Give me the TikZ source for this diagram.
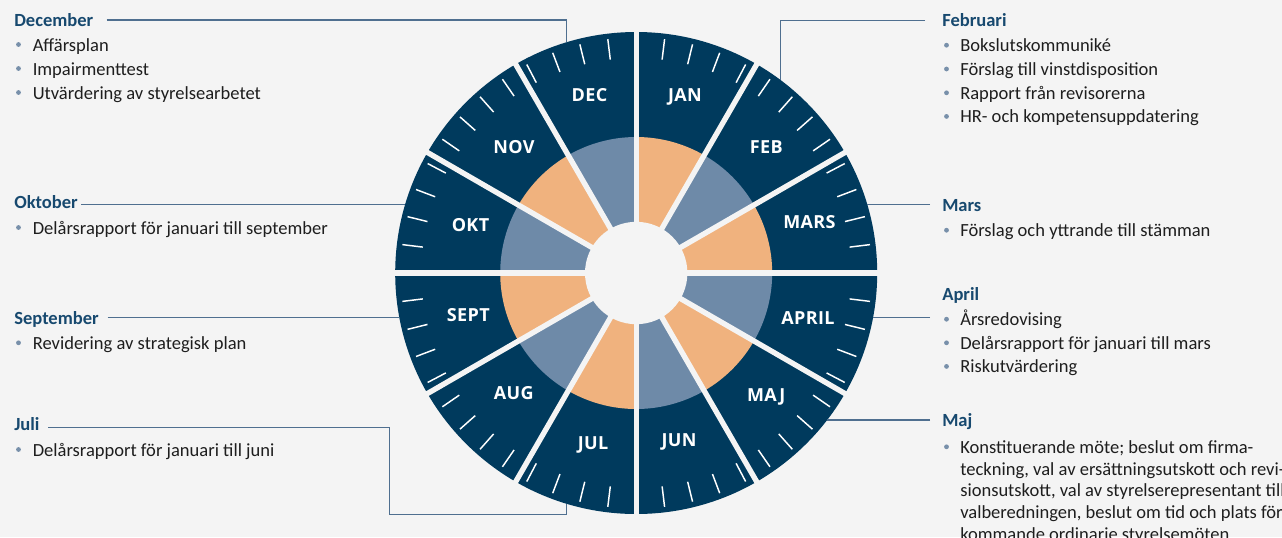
\documentclass[tikz,border=0pt]{standalone}
\usepackage{fontspec}
\setmainfont{Carlito}
\newfontfamily\monthfont{Open Sans}[LetterSpace=2.0]
\definecolor{cBg}{HTML}{F4F4F4}
\definecolor{cNavy}{HTML}{003A5D}
\definecolor{cSlate}{HTML}{6E8AA8}
\definecolor{cPeach}{HTML}{F0B27E}
\definecolor{cHead}{HTML}{17496F}
\definecolor{cBody}{HTML}{1E1E1E}
\definecolor{cConn}{HTML}{4F6F8F}
\definecolor{cBul}{HTML}{7890AA}
\begin{document}
\begin{tikzpicture}[x=0.75pt,y=-0.75pt,
  headtxt/.style={anchor=base west, inner sep=0pt, font=\fontsize{13.9}{16}\selectfont\bfseries, text=cHead},
  itemtxt/.style={anchor=base west, inner sep=0pt, font=\fontsize{13.9}{16}\selectfont, text=cBody},
  monthtxt/.style={anchor=base, inner sep=0pt, font=\monthfont\bfseries\fontsize{13.5}{15}\selectfont, text=white},
  connline/.style={draw=cConn, line width=0.8pt},
  tickline/.style={draw=white, line width=1.1pt},
  gapline/.style={draw=cBg, line width=4pt},
  bul/.style={fill=cBul},
]
\fill[cBg] (0,0) rectangle (1282,537);
\useasboundingbox (0,0) rectangle (1282,537);

% ---------------- wheel ----------------
\begin{scope}[shift={(636.2,273)}, y=0.75pt]
  \fill[cNavy] (0,0) circle[radius=241];
  \foreach \i [evaluate=\i as \aa using 90-30*(\i+1), evaluate=\i as \ab using 90-30*\i] in {0,...,11}{
    \ifodd\i
      \fill[cSlate] (0,0) -- (\aa:136) arc[start angle=\aa, end angle=\ab, radius=136] -- cycle;
    \else
      \fill[cPeach] (0,0) -- (\aa:136) arc[start angle=\aa, end angle=\ab, radius=136] -- cycle;
    \fi
  }
  \foreach \k in {1,...,51}{
    \draw[tickline] ({90-6.923077*\k}:215) -- ({90-6.923077*\k}:235.5);
  }
  \foreach \i in {0,...,11}{
    \draw[gapline] (0,0) -- ({90-30*\i}:247);
  }
  \fill[cBg] (0,0) circle[radius=51.2];
\end{scope}

% month labels (x / y of cap centre)
\foreach \n/\x/\y in {DEC/589.5/94.9, JAN/685/94.9, FEB/766.3/147, MARS/809.5/222,
  APRIL/808/318.5, MAJ/766.2/395.5, JUN/679/440, JUL/593/442.8,
  AUG/513.7/392.8, SEPT/468.3/315, OKT/470.5/224.8, NOV/514/147}{
  \node[monthtxt] (m-\n) at (\x,\y+6.45) {\n};
}

% ---------------- left texts ----------------
\node[headtxt] (h-dec) at (14,26) {December};
\foreach \t/\y in {Affärsplan/51, Impairmenttest/75, Utvärdering av styrelsearbetet/99}{
  \fill[bul] (18.5,\y-6.5) circle[radius=2.4];
  \node[itemtxt] at (32.5,\y) {\t};
}
\node[headtxt] (h-okt) at (14,208.3) {Oktober};
\fill[bul] (18.5,234-6.5) circle[radius=2.4];
\node[itemtxt] (i-okt) at (32.5,234) {Delårsrapport för januari till september};

\node[headtxt] (h-sep) at (14,324) {September};
\fill[bul] (18.5,349.3-6.5) circle[radius=2.4];
\node[itemtxt] (i-sep) at (32.5,349.3) {Revidering av strategisk plan};

\node[headtxt] (h-jul) at (14,430.7) {Juli};
\fill[bul] (18.5,456-6.5) circle[radius=2.4];
\node[itemtxt] (i-jul) at (32.5,456) {Delårsrapport för januari till juni};

% ---------------- right texts ----------------
\node[headtxt] (h-feb) at (942,26) {Februari};
\foreach \t/\y in {Bokslutskommuniké/51.7, Förslag till vinstdisposition/75.5, Rapport från revisorerna/99.3, HR- och kompetensuppdatering/122.9}{
  \fill[bul] (946.5,\y-6.5) circle[radius=2.4];
  \node[itemtxt] at (960,\y) {\t};
}
\node[headtxt] (h-mar) at (942,211) {Mars};
\fill[bul] (946.5,236.7-6.5) circle[radius=2.4];
\node[itemtxt] (i-mar) at (960,236.7) {Förslag och yttrande till stämman};

\node[headtxt] (h-apr) at (942,300) {April};
\foreach \t/\y in {Årsredovising/325.7, Delårsrapport för januari till mars/349.3, Riskutvärdering/372.9}{
  \fill[bul] (946.5,\y-6.5) circle[radius=2.4];
  \node[itemtxt] at (960,\y) {\t};
}
\node[headtxt] (h-maj) at (942,426) {Maj};
\fill[bul] (946.5,453.3-6.5) circle[radius=2.4];
\foreach \t/\y in {Konstituerande möte; beslut om firma-/453.3,
  {teckning, val av ersättningsutskott och revi-}/475,
  {sionsutskott, val av styrelserepresentant till}/496.7,
  {valberedningen, beslut om tid och plats för}/518.3,
  kommande ordinarie styrelsemöten/540}{
  \node[itemtxt] at (960,\y) {\t};
}

% ---------------- connectors ----------------
\coordinate (s-dec) at (106.7,20);   \coordinate (e-dec) at (566.7,42.4);
\coordinate (s-okt) at (81,204.3);   \coordinate (e-okt) at (405.2,204.3);
\coordinate (s-sep) at (107.7,317.7);\coordinate (e-sep) at (399.4,317.7);
\coordinate (s-jul) at (48.3,427.7); \coordinate (k-jul) at (389.3,514.3); \coordinate (e-jul) at (566.7,503.6);
\coordinate (s-feb) at (925,20.7);   \coordinate (e-feb) at (780.7,80.3);
\coordinate (s-mar) at (930,204.3);  \coordinate (e-mar) at (867,204.3);
\coordinate (s-apr) at (930,317.7);  \coordinate (e-apr) at (872.8,317.7);
\coordinate (s-maj) at (930,420);    \coordinate (e-maj) at (827,420);

\draw[connline] (s-dec) -| (e-dec);
\draw[connline] (s-okt) -- (e-okt);
\draw[connline] (s-sep) -- (e-sep);
\draw[connline] (s-jul) -| (k-jul) -| (e-jul);
\draw[connline] (s-feb) -| (e-feb);
\draw[connline] (s-mar) -- (e-mar);
\draw[connline] (s-apr) -- (e-apr);
\draw[connline] (s-maj) -- (e-maj);
\end{tikzpicture}
\end{document}
